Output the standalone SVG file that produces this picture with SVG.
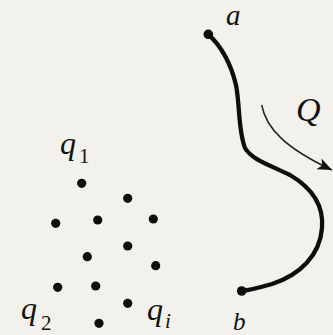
<svg xmlns="http://www.w3.org/2000/svg" width="333" height="335" viewBox="0 0 333 335">
<style>
.lbl{font-family:"Liberation Serif","Times New Roman",serif;font-style:italic;fill:#111}
.sub{font-family:"Liberation Serif","Times New Roman",serif;fill:#111}
.dot{fill:#0d0d0d}
</style>
<defs>
<marker id="arr" viewBox="0 0 12 10" refX="12" refY="5" markerWidth="15" markerHeight="12" markerUnits="userSpaceOnUse" orient="auto">
<path d="M0,0 L12,5 L0,10 L3,5 Z" fill="#111"/>
</marker>
</defs>
<rect width="333" height="335" fill="#f2f1ec"/>
<g id="connectors">
<path id="path-ab" d="M208.3,34.3 C220,45 230,60 236,85 C240,105 238,130 245,148 C252,160 270,165 290,175 C312,188 324,205 322,228 C320,255 300,275 272,284 C258,288 250,290 241.7,291" fill="none" stroke="#0d0d0d" stroke-width="4.3" stroke-linecap="round"/>
<path id="arrow-Q" d="M261.7,105 C266,128 285,148 332,170" fill="none" stroke="#222" stroke-width="1.5" marker-end="url(#arr)"/>
</g>
<g id="node-a">
<circle cx="208.3" cy="34.3" r="4.8" class="dot"/>
<text x="226" y="25" font-size="29" class="lbl">a</text>
</g>
<g id="node-b">
<circle cx="241.7" cy="291" r="4.8" class="dot"/>
<text x="233" y="330" font-size="25" class="lbl">b</text>
</g>
<g id="label-Q">
<text x="296" y="121" font-size="34" class="lbl">Q</text>
</g>
<g id="charges">
<circle cx="81.7" cy="183.3" r="4.6" class="dot"/>
<circle cx="127.7" cy="198.3" r="4.6" class="dot"/>
<circle cx="55.7" cy="223.3" r="4.6" class="dot"/>
<circle cx="97.7" cy="220" r="4.6" class="dot"/>
<circle cx="153.3" cy="219" r="4.6" class="dot"/>
<circle cx="127.7" cy="246" r="4.6" class="dot"/>
<circle cx="87.3" cy="256.7" r="4.6" class="dot"/>
<circle cx="155.7" cy="265.7" r="4.6" class="dot"/>
<circle cx="57.7" cy="287.3" r="4.6" class="dot"/>
<circle cx="95.7" cy="286" r="4.6" class="dot"/>
<circle cx="127.7" cy="303.3" r="4.6" class="dot"/>
<circle cx="99" cy="323.3" r="4.6" class="dot"/>
</g>
<g id="label-q1">
<text x="60" y="154" font-size="32" class="lbl">q</text>
<text x="79" y="163" font-size="21" class="sub">1</text>
</g>
<g id="label-q2">
<text x="21" y="319" font-size="32" class="lbl">q</text>
<text x="41" y="330" font-size="21" class="sub">2</text>
</g>
<g id="label-qi">
<text x="147" y="320" font-size="32" class="lbl">q</text>
<text x="165" y="328" font-size="21" class="lbl">i</text>
</g>
</svg>
